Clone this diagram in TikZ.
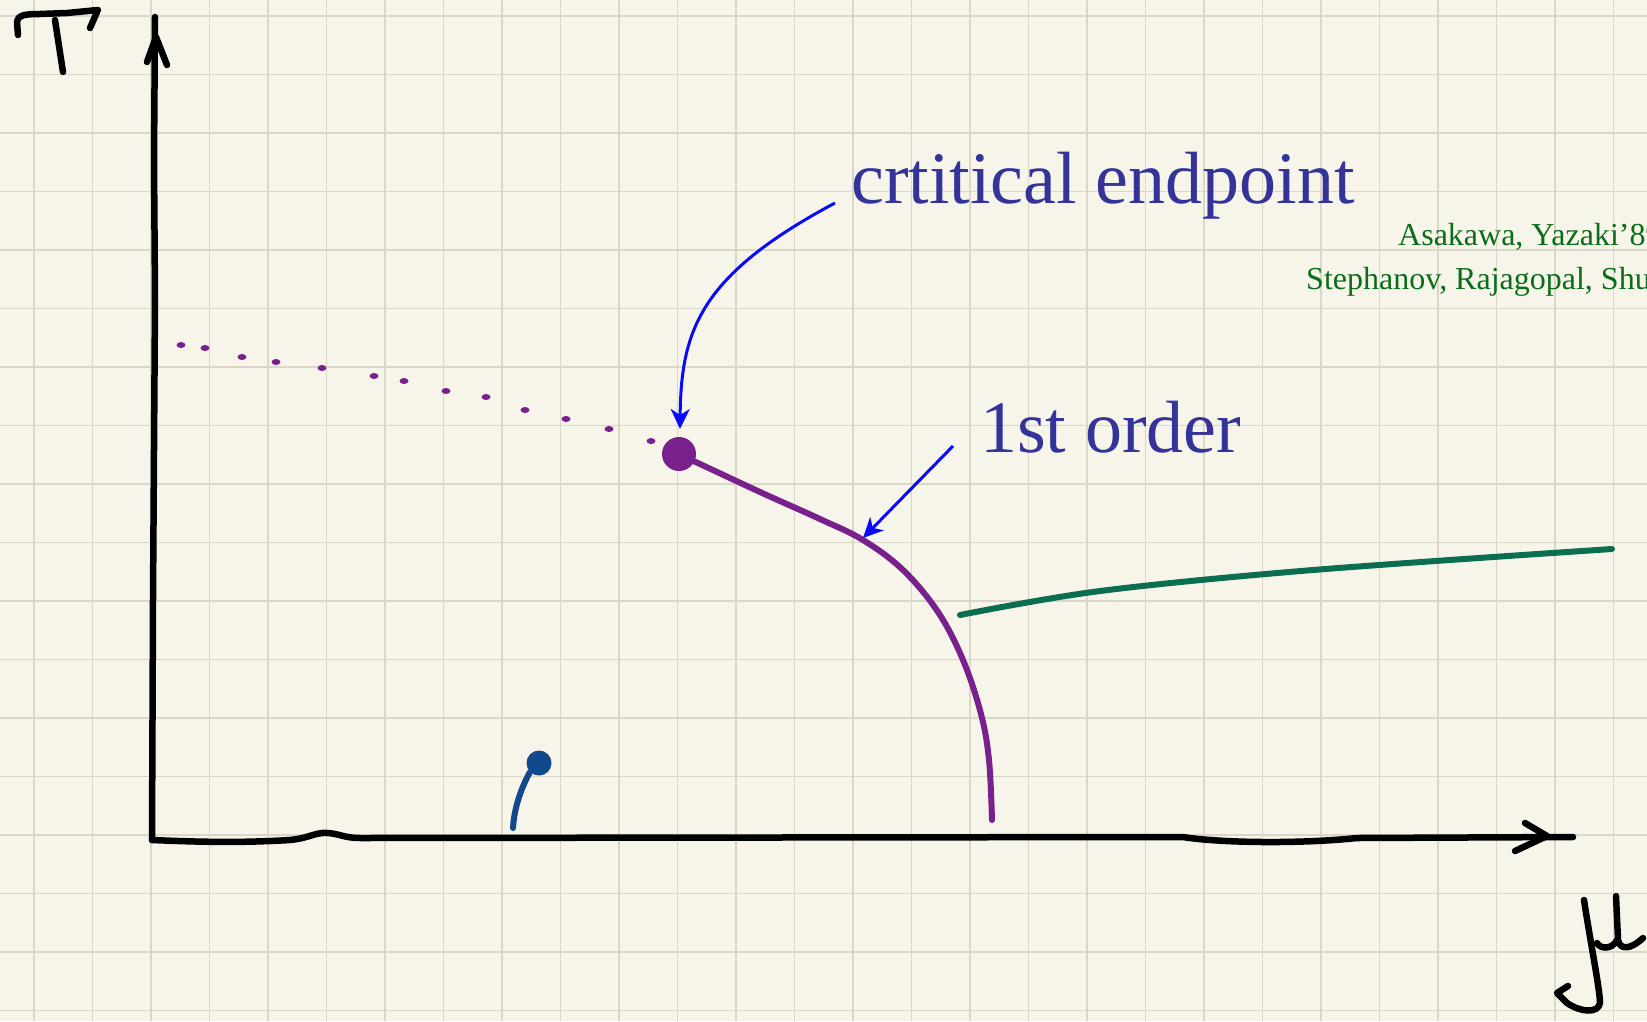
\documentclass[tikz,border=0pt]{standalone}
\usepackage{fontspec}
\setmainfont{Liberation Serif}
\usetikzlibrary{arrows.meta,calc}
\definecolor{bgc}{RGB}{247,245,234}
\definecolor{gridc}{RGB}{219,215,200}
\definecolor{txtc}{RGB}{51,51,153}
\definecolor{refc}{RGB}{10,110,25}
\definecolor{purp}{RGB}{120,32,140}
\definecolor{grn}{RGB}{12,110,80}
\definecolor{dblue}{RGB}{18,72,140}
\definecolor{arrc}{RGB}{10,10,250}
\begin{document}
\begin{tikzpicture}[x=1pt,y=-1pt,
  ink/.style={line width=6.5pt,line cap=round,line join=round},
  curveline/.style={line width=6pt,line cap=round,line join=round},
  pointer/.style={arrc,line width=3pt,-{Stealth[length=20pt,width=19pt,inset=6pt]}},
  bigtext/.style={txtc,anchor=base west,inner sep=0pt,font=\fontsize{74}{80}\selectfont},
  reftext/.style={refc,anchor=base west,inner sep=0pt,font=\fontsize{32}{36}\selectfont},
  dotmark/.style={purp}]
\useasboundingbox (0,0) rectangle (1647,1021);
\fill[bgc] (0,0) rectangle (1647,1021);
% grid
\foreach \i in {0,...,27} \draw[gridc,line width=1.6pt] ({34+58.5*\i},0) -- ({34+58.5*\i},1021);
\foreach \j in {0,...,17} \draw[gridc,line width=1.6pt] (0,{16+58.5*\j}) -- (1647,{16+58.5*\j});

% axes
\coordinate (O) at (152,840);
\coordinate (Ttip) at (155,17);
\coordinate (Mtip) at (1573,837);
\draw[ink] (O) -- (153,600) -- (155,300) -- (154,160) -- (Ttip);
\draw[ink] (147,62) -- (156,37) -- (167,65);
\draw[ink] (O) .. controls (200,842) and (240,843) .. (290,840)
  .. controls (310,838) and (315,832) .. (328,833)
  .. controls (340,834) and (345,838) .. (360,838) -- (1183,837)
  .. controls (1220,843) and (1300,844) .. (1357,838) -- (Mtip);
\draw[ink] (1525,823) -- (1547,836) -- (1515,851);

% T label
\draw[ink] (18,35) -- (17,22) .. controls (18,15) and (25,14) .. (40,14) -- (67,13) -- (98,10);
\draw[ink] (97,12) -- (90,28);
\draw[ink] (55,20) -- (63,72);

% mu label
\draw[ink] (1584,900) .. controls (1590,940) and (1600,990) .. (1600,1003)
  .. controls (1598,1014) and (1580,1012) .. (1567,1003) -- (1557,993) -- (1568,986);
\draw[ink] (1597,943) .. controls (1600,949) and (1612,950) .. (1617,940);
\draw[ink] (1616,896) -- (1618,940) .. controls (1620,950) and (1630,950) .. (1643,938);

% dotted crossover
\foreach \px/\py in {181/345,205/348,242/357,276/362,322/368,374/376,404/381,446/391,486/397,525/410,566/419,609/429,651/441}
  \fill[dotmark] (\px,\py) ellipse (4.5 and 3);

% first order line
\draw[purp,curveline] plot[smooth,tension=0.6] coordinates {(680,455) (700,464) (760,492) (820,519) (863,540) (903,570) (938,612) (963,660) (981,714) (989,760) (992,820)};
\node[circle,fill=purp,minimum size=34pt,inner sep=0pt] (cp) at (679,454) {};
\coordinate (fo) at (863,538);
\coordinate (cptip) at (680,429);

% green line
\draw[grn,curveline] plot[smooth,tension=0.55] coordinates {(960,615) (1100,591) (1313,570) (1612,549)};

% small blue
\node[circle,fill=dblue,minimum size=25pt,inner sep=0pt] (bd) at (539,763) {};
\draw[dblue,curveline] (bd.south west) .. controls (520,790) and (514,810) .. (513,828);

% texts
\node[bigtext] (cep) at (851,203) {crtitical endpoint};
\node[bigtext] (fol) at (980,452) {1st order};
\node[reftext] (r1) at (1398,245) {Asakawa, Yazaki’89};
\node[reftext] (r2) at (1306,289) {Stephanov, Rajagopal, Shu};

% pointers
\draw[pointer] ([xshift=-16pt]cep.base west) .. controls (700,275) and (681,330) .. (cptip);
\draw[pointer] ([xshift=-27pt,yshift=6pt]fol.base west) -- (fo);
\end{tikzpicture}
\end{document}
